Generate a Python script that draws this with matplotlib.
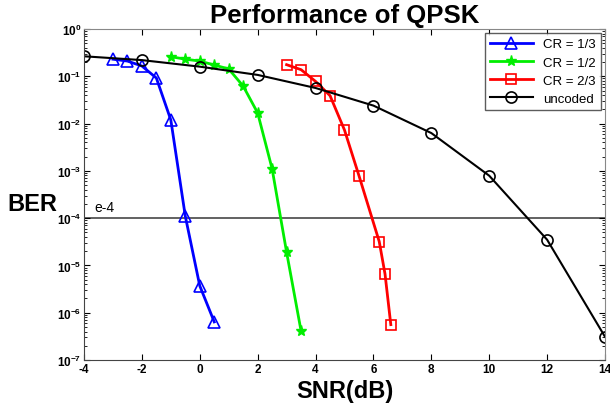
import math
import matplotlib
matplotlib.use("Agg")
import matplotlib.pyplot as plt
from matplotlib.ticker import FuncFormatter, LogLocator, MultipleLocator

plt.rcParams['font.family'] = ['Liberation Sans', 'DejaVu Sans']
plt.rcParams['mathtext.fontset'] = 'custom'
plt.rcParams['mathtext.rm'] = 'Liberation Sans'
plt.rcParams['mathtext.bf'] = 'Liberation Sans:bold'

# BER curves for QPSK, coded at different rates and uncoded
snr_13 = [-3, -2.5, -2, -1.5, -1, -0.5, 0, 0.5]
ber_13 = [0.23, 0.21, 0.165, 0.092, 0.0119, 1.1e-4, 3.7e-6, 6.4e-7]

snr_12 = [-1, -0.5, 0, 0.5, 1, 1.5, 2, 2.5, 3, 3.5]
ber_12 = [0.26, 0.23, 0.21, 0.173, 0.143, 0.062, 0.0168, 1.1e-3, 1.9e-5, 4.1e-7]

snr_23 = [3, 3.5, 4, 4.5, 5, 5.5, 6.2, 6.4, 6.6]
ber_23 = [0.176, 0.138, 0.078, 0.039, 7.3e-3, 7.9e-4, 3.2e-5, 6.6e-6, 5.6e-7]

snr_unc = [-4, -2, 0, 2, 4, 6, 8, 10, 12, 14]
ber_unc = [0.265, 0.22, 0.16, 0.107, 0.0566, 0.024, 6.3e-3, 7.9e-4, 3.5e-5, 3.1e-7]

ber_ref = 1e-4

fig = plt.figure(figsize=(6.1, 4.1), dpi=100)
ax = fig.add_axes([0.1377, 0.1195, 0.8541, 0.8073])

ax.axhline(ber_ref, color='#555555', lw=1.3, zorder=1)
ax.text(-3.65, ber_ref * 1.25, 'e-4', fontsize=10, va='bottom', ha='left')

ax.semilogy(snr_13, ber_13, '-^', color='blue', lw=2, ms=8, mfc='none', mew=1.2, label='CR = 1/3')
ax.semilogy(snr_12, ber_12, '-*', color='#00ee00', lw=2, ms=8, mew=1.0, label='CR = 1/2')
ax.semilogy(snr_23, ber_23, '-s', color='red', lw=2, ms=7, mfc='none', mew=1.2, label='CR = 2/3')
ax.semilogy(snr_unc, ber_unc, '-o', color='black', lw=1.5, ms=8, mfc='none', mew=1.2, label='uncoded')

ax.set_xlim(-4, 14)
ax.set_ylim(1e-7, 1)
ax.xaxis.set_major_locator(MultipleLocator(2))
ax.yaxis.set_major_locator(LogLocator(base=10, numticks=10))
ax.yaxis.set_minor_locator(LogLocator(base=10, subs=range(2, 10), numticks=10))
ax.yaxis.set_major_formatter(FuncFormatter(lambda v, p: r'$\mathbf{10^{%d}}$' % round(math.log10(v))))
ax.xaxis.set_major_formatter(FuncFormatter(lambda v, p: '%d' % v))

ax.tick_params(which='both', direction='in', top=True, right=True, labelsize=8.5, pad=2)
ax.tick_params(which='major', length=4)
ax.tick_params(which='minor', length=2)
for lbl in ax.get_xticklabels():
    lbl.set_fontweight('bold')

for side in ['left', 'bottom']:
    ax.spines[side].set_color('#444444')
for side in ['top', 'right']:
    ax.spines[side].set_color('#888888')

ax.set_title('Performance of QPSK', fontsize=18.5, fontweight='bold', pad=5)
fig.text(0.012, 0.50, 'BER', fontsize=17, fontweight='bold', va='center', ha='left')
ax.set_xlabel('SNR(dB)', fontsize=17, fontweight='bold', labelpad=3)

leg = ax.legend(loc='upper right', fontsize=9.5, fancybox=False, edgecolor='#333333',
                borderaxespad=0.3, handlelength=3.2, labelspacing=0.45)
leg.get_frame().set_linewidth(1.0)

fig.savefig('out.png', dpi=100)
